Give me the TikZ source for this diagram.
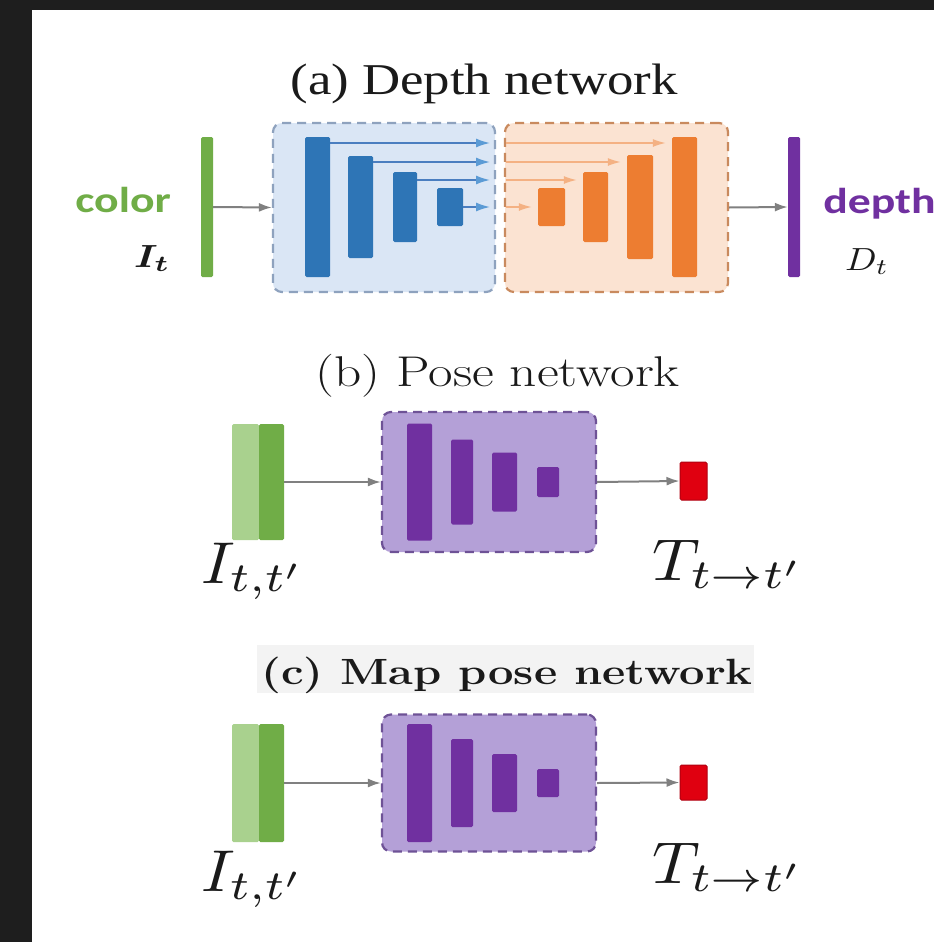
\documentclass[tikz,border=0pt]{standalone}
\usepackage{fontspec}
\usepackage{amsmath}
\usepackage{graphicx}
\usetikzlibrary{arrows.meta}
\newfontfamily\carlito{Carlito}
\newfontfamily\libserif{Liberation Serif}
\definecolor{framebg}{HTML}{1E1E1E}
\definecolor{cgreen}{HTML}{70AD47}
\definecolor{lgreen}{HTML}{A9D18E}
\definecolor{cblue}{HTML}{2E75B6}
\definecolor{bluebox}{HTML}{DAE6F5}
\definecolor{blueborder}{HTML}{8EA2BE}
\definecolor{bskipline}{HTML}{4A7EC0}
\definecolor{bskiphead}{HTML}{5B9BD5}
\definecolor{corange}{HTML}{ED7D31}
\definecolor{orangebox}{HTML}{FBE3D2}
\definecolor{orangeborder}{HTML}{C98A5E}
\definecolor{oskip}{HTML}{F4B183}
\definecolor{cpurple}{HTML}{7030A0}
\definecolor{pbox}{HTML}{B4A0D7}
\definecolor{pborder}{HTML}{6E5296}
\definecolor{cred}{HTML}{E00010}
\definecolor{dred}{HTML}{B00010}
\definecolor{garrowc}{HTML}{808080}
\definecolor{titlebg}{HTML}{F3F3F3}
\definecolor{txt}{HTML}{1A1A1A}
\begin{document}
\begin{tikzpicture}[x=1pt,y=-1pt,
  sz/.style 2 args={minimum width=#1,minimum height=#2},
  bar/.style={draw=none,inner sep=0pt,rounded corners=1.5pt},
  dbox/.style={inner sep=0pt,line width=2.2pt,dash pattern=on 9pt off 6pt,rounded corners=9pt},
  garrow/.style={draw=garrowc,line width=2pt,-{Latex[length=13pt,width=9pt]}},
  bskip/.style={draw=bskipline,line width=1.8pt,-{Latex[length=14pt,width=9pt,color=bskiphead]},shorten >=6pt},
  oskipa/.style={draw=oskip,line width=1.4pt,-{Latex[length=13pt,width=8pt,color=oskip]},shorten >=6pt,shorten <=2pt},
  lbl/.style={inner sep=0pt,text=txt},
]
\useasboundingbox (0,0) rectangle (934,942);
\fill[framebg] (0,0) rectangle (934,942);
\fill[white] (32,10) rectangle (934,942);

% ---------- (a) Depth network ----------
\node[lbl,anchor=base,xscale=1.2,font={\libserif\fontsize{44}{50}\selectfont}] (ta) at (484,94) {(a) Depth network};

\node[lbl,anchor=base west,xscale=1.27,text=cgreen,font={\carlito\bfseries\fontsize{36}{40}\selectfont}] (colortxt) at (75,212) {color};
\node[lbl,anchor=base west] (It) at (134,267) {\scalebox{4.0}[3.2]{$\boldsymbol{I_t}$}};
\node[bar,fill=cgreen,sz={12pt}{140pt}] (gbar) at (207,207) {};

\node[dbox,fill=bluebox,draw=blueborder,sz={222pt}{169pt}] (bbox) at (384,207.5) {};
\node[bar,fill=cblue,sz={25pt}{140pt}] (b1) at (317.5,207) {};
\node[bar,fill=cblue,sz={25pt}{102pt}] (b2) at (360.5,207) {};
\node[bar,fill=cblue,sz={24pt}{70pt}] (b3) at (405,207) {};
\node[bar,fill=cblue,sz={26pt}{38pt}] (b4) at (450,207) {};

\node[dbox,fill=orangebox,draw=orangeborder,sz={223pt}{169pt}] (obox) at (616.5,207.5) {};
\node[bar,fill=corange,sz={27pt}{38pt}] (o1) at (551.5,207) {};
\node[bar,fill=corange,sz={25pt}{70pt}] (o2) at (595.5,207) {};
\node[bar,fill=corange,sz={26pt}{104pt}] (o3) at (640,207) {};
\node[bar,fill=corange,sz={25pt}{140pt}] (o4) at (684.5,207) {};

\node[bar,fill=cpurple,sz={12pt}{140pt}] (dbar) at (794,207) {};
\node[lbl,anchor=base west,xscale=1.27,text=cpurple,font={\carlito\bfseries\fontsize{36}{40}\selectfont}] (depthtxt) at (823,213) {depth};
\node[lbl,anchor=base west] (Dt) at (845,270) {\scalebox{3.7}[3.2]{$D_t$}};

\draw[garrow] (gbar.east) -- (bbox.west);
\draw[garrow] (obox.east) -- (dbar.west);

\draw[bskip] (b1.east |- 0,143) -- (bbox.east |- 0,143);
\draw[bskip] (b2.east |- 0,162) -- (bbox.east |- 0,162);
\draw[bskip] (b3.east |- 0,180) -- (bbox.east |- 0,180);
\draw[bskip] (b4.east |- 0,207) -- (bbox.east |- 0,207);

\draw[oskipa] (obox.west |- 0,143) -- (o4.west |- 0,143);
\draw[oskipa] (obox.west |- 0,162) -- (o3.west |- 0,162);
\draw[oskipa] (obox.west |- 0,180) -- (o2.west |- 0,180);
\draw[oskipa] (obox.west |- 0,207) -- (o1.west |- 0,207);

% ---------- (b) Pose network ----------
\node[lbl,anchor=base,xscale=1.24,font={\fontsize{43}{48}\selectfont}] (tb) at (497.5,386) {(b) Pose network};
\node[bar,fill=lgreen,sz={27pt}{116pt}] (bl) at (245.5,482) {};
\node[bar,fill=cgreen,sz={25pt}{116pt}] (bd) at (271.5,482) {};
\node[dbox,fill=pbox,draw=pborder,sz={214pt}{140pt}] (pbx) at (489,482) {};
\node[bar,fill=cpurple,sz={25pt}{117pt}] (p1) at (419.5,482) {};
\node[bar,fill=cpurple,sz={22pt}{85pt}] (p2) at (462,482) {};
\node[bar,fill=cpurple,sz={25pt}{59pt}] (p3) at (504.5,482) {};
\node[bar,fill=cpurple,sz={22pt}{30pt}] (p4) at (548,482) {};
\node[bar,fill=cred,draw=dred,line width=1pt,sz={27pt}{38pt}] (rb) at (693.5,481) {};
\draw[garrow] (bd.east) -- (pbx.west);
\draw[garrow] (pbx.east) -- (rb.west);
\node[lbl,anchor=base west] (Ib) at (201,583) {\scalebox{6.5}[5.9]{$I_{t,t'}$}};
\node[lbl,anchor=base west] (Tb) at (652,580) {\scalebox{6.6}[5.9]{$T_{t\to t'}$}};

% ---------- (c) Map pose network ----------
\node[fill=titlebg,draw=none,inner sep=0pt,sz={497pt}{48pt}] (cbg) at (505,669) {};
\node[lbl,anchor=base,xscale=1.24,font={\bfseries\fontsize{36.5}{42}\selectfont}] (tc) at (507,684) {(c) Map pose network};
\node[bar,fill=lgreen,sz={27pt}{118pt}] (cl) at (245.5,783) {};
\node[bar,fill=cgreen,sz={25pt}{118pt}] (cd) at (271.5,783) {};
\node[dbox,fill=pbox,draw=pborder,sz={214pt}{137pt}] (cbx) at (489,783) {};
\node[bar,fill=cpurple,sz={25pt}{118pt}] (q1) at (419.5,783) {};
\node[bar,fill=cpurple,sz={22pt}{88pt}] (q2) at (462,783) {};
\node[bar,fill=cpurple,sz={25pt}{58pt}] (q3) at (504.5,783) {};
\node[bar,fill=cpurple,sz={22pt}{28pt}] (q4) at (548,783) {};
\node[bar,fill=cred,draw=dred,line width=1pt,sz={27pt}{35pt}] (rc) at (693.5,782.5) {};
\draw[garrow] (cd.east) -- (cbx.west);
\draw[garrow] (cbx.east) -- (rc.west);
\node[lbl,anchor=base west] (Ic) at (201,891) {\scalebox{6.5}[5.9]{$I_{t,t'}$}};
\node[lbl,anchor=base west] (Tc) at (652,883) {\scalebox{6.6}[5.9]{$T_{t\to t'}$}};
\end{tikzpicture}
\end{document}
